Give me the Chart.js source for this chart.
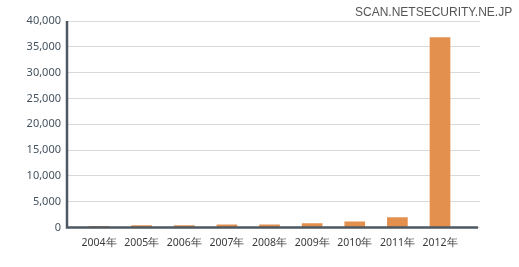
<!DOCTYPE html>
<html>
<head>
<meta charset="utf-8">
<script src="https://cdn.jsdelivr.net/npm/chart.js@4"></script>
<style>
  html, body { margin: 0; padding: 0; background: #fff; }
  #wrap { position: relative; width: 519px; height: 267px; }
  #mark {
    position: absolute; left: 355px; top: 5px;
    font: 12px "Liberation Sans", sans-serif; color: #555;
    white-space: nowrap;
  }
</style>
</head>
<body>
<div id="wrap">
  <canvas id="chart" width="519" height="267"></canvas>
  <div id="mark">SCAN.NETSECURITY.NE.JP</div>
</div>
<script>
  // data
  const years  = ['2004年', '2005年', '2006年', '2007年', '2008年', '2009年', '2010年', '2011年', '2012年'];
  const counts = [230, 350, 350, 540, 540, 740, 1120, 1900, 36800];
  const yTicks = [0, 5000, 10000, 15000, 20000, 25000, 30000, 35000, 40000];

  const AXIS = '#4d5862';

  // axis lines drawn over the bars
  const axisLines = {
    id: 'axisLines',
    afterDatasetsDraw(chart) {
      const { ctx, chartArea, scales } = chart;
      const y0 = scales.y.getPixelForValue(0);
      ctx.save();
      ctx.strokeStyle = AXIS;
      ctx.lineWidth = 2.5;
      ctx.beginPath();
      ctx.moveTo(chartArea.left, chartArea.top);
      ctx.lineTo(chartArea.left, y0 + 1.2);
      ctx.moveTo(chartArea.left - 1.2, y0);
      ctx.lineTo(chartArea.right - 2, y0);
      ctx.stroke();
      ctx.restore();
    }
  };

  new Chart(document.getElementById('chart'), {
    type: 'bar',
    data: {
      datasets: [{
        data: counts.map((v, i) => ({ x: i, y: v })),
        backgroundColor: '#e3904f',
        barThickness: 20,
      }],
    },
    options: {
      responsive: false,
      animation: false,
      layout: { padding: { top: 21, right: 39, bottom: 0, left: 0 } },
      plugins: { legend: { display: false }, tooltip: { enabled: false } },
      scales: {
        x: {
          type: 'linear',
          offset: false,
          min: -0.751,
          max: 8.938,
          afterBuildTicks: s => { s.ticks = years.map((_, i) => ({ value: i })); },
          afterFit: s => { s.height = 39.5; },
          grid: { display: false, offset: false },
          border: { display: false },
          ticks: {
            callback: v => years[v],
            color: '#3c3c3c',
            font: { size: 10.5, family: 'Noto Sans' },
            padding: 1,
            maxRotation: 0,
            autoSkip: false,
          },
        },
        y: {
          min: 0,
          max: 40000,
          afterBuildTicks: s => { s.ticks = yTicks.map(v => ({ value: v })); },
          afterFit: s => { s.width = 67; },
          grid: { color: '#d9d9d9', lineWidth: 1, drawTicks: false },
          border: { display: false },
          ticks: {
            callback: v => v.toLocaleString('en-US'),
            color: '#44525f',
            font: { size: 11, family: 'Noto Sans' },
            padding: 6,
          },
        },
      },
    },
    plugins: [axisLines],
  });
</script>
</body>
</html>
